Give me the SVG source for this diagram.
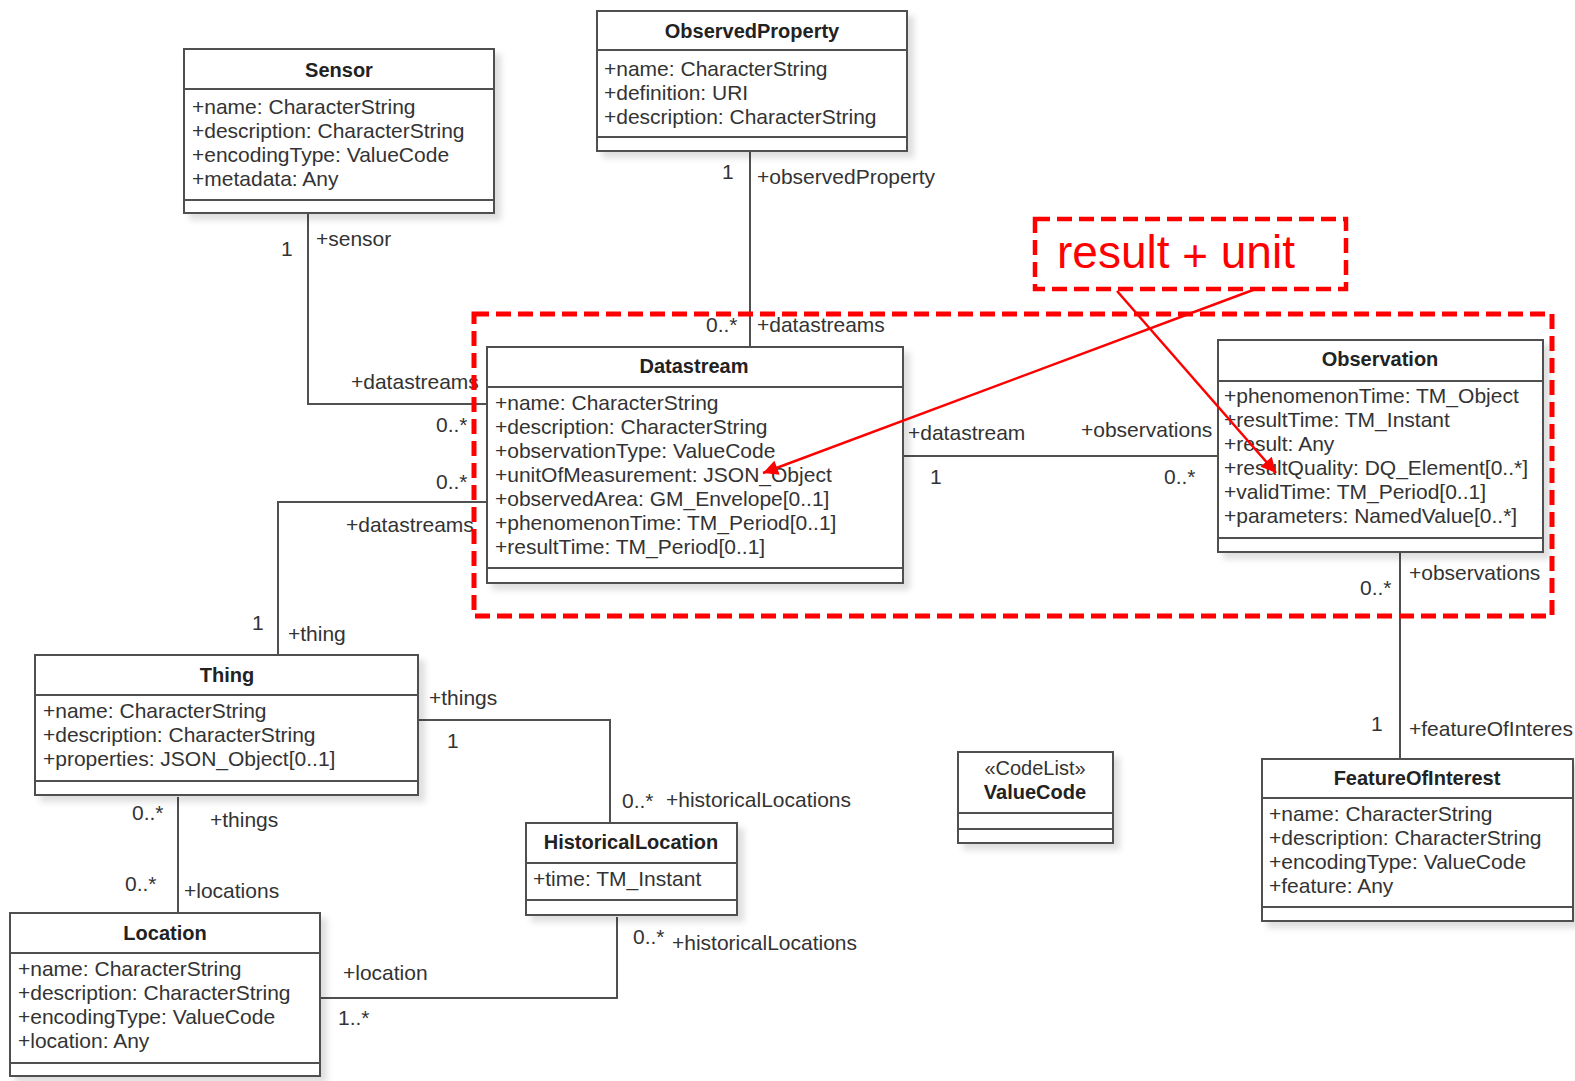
<svg xmlns="http://www.w3.org/2000/svg" width="1575" height="1081" viewBox="0 0 1575 1081">
<defs>
<style>
.box{fill:#fff;stroke:#505050;stroke-width:2;filter:url(#shadow)}
.sep{stroke:#505050;stroke-width:2}
.t{font-family:"Liberation Sans",Arial,sans-serif;font-size:21px;fill:#333}
.ti{font-family:"Liberation Sans",Arial,sans-serif;font-size:20px;font-weight:bold;fill:#222;text-anchor:middle}
.st{font-family:"Liberation Sans",Arial,sans-serif;font-size:20px;fill:#333;text-anchor:middle}
.c{fill:none;stroke:#505050;stroke-width:2}
.red{fill:none;stroke:#f00;stroke-width:5;stroke-dasharray:15 7}
.ra{fill:none;stroke:#f00;stroke-width:2.5}
.big{font-family:"Liberation Sans",Arial,sans-serif;font-size:46px;fill:#f00}
</style>
<filter id="shadow" x="-10%" y="-10%" width="130%" height="130%">
<feDropShadow dx="6" dy="6" stdDeviation="3" flood-color="#000" flood-opacity="0.13"/>
</filter>
<marker id="arr" viewBox="0 0 10 10" refX="10" refY="5" markerWidth="7" markerHeight="6" markerUnits="strokeWidth" orient="auto">
<path d="M0,0 L10,5 L0,10 z" fill="#f00"/>
</marker>
</defs>
<rect width="1575" height="1081" fill="#fff"/>

<g id="connectors">
<path class="c" d="M308 213 V404 H487"/>
<path class="c" d="M750 151 V347"/>
<path class="c" d="M487 502 H278 V655"/>
<path class="c" d="M903 456 H1218"/>
<path class="c" d="M1400 552 V759"/>
<path class="c" d="M418 720 H610 V824"/>
<path class="c" d="M178 797 V915"/>
<path class="c" d="M320 998 H617 V917"/>
<text class="t" x="281" y="256">1</text>
<text class="t" x="316" y="246">+sensor</text>
<text class="t" x="351" y="389">+datastreams</text>
<text class="t" x="436" y="432">0..*</text>
<text class="t" x="722" y="179">1</text>
<text class="t" x="757" y="184">+observedProperty</text>
<text class="t" x="706" y="332">0..*</text>
<text class="t" x="757" y="332">+datastreams</text>
<text class="t" x="436" y="489">0..*</text>
<text class="t" x="346" y="532">+datastreams</text>
<text class="t" x="252" y="630">1</text>
<text class="t" x="288" y="641">+thing</text>
<text class="t" x="908" y="440">+datastream</text>
<text class="t" x="930" y="484">1</text>
<text class="t" x="1081" y="437">+observations</text>
<text class="t" x="1164" y="484">0..*</text>
<text class="t" x="1360" y="595">0..*</text>
<text class="t" x="1409" y="580">+observations</text>
<text class="t" x="1371" y="731">1</text>
<text class="t" x="1409" y="736">+featureOfInteres</text>
<text class="t" x="429" y="705">+things</text>
<text class="t" x="447" y="748">1</text>
<text class="t" x="622" y="808">0..*</text>
<text class="t" x="666" y="807">+historicalLocations</text>
<text class="t" x="132" y="820">0..*</text>
<text class="t" x="210" y="827">+things</text>
<text class="t" x="125" y="891">0..*</text>
<text class="t" x="184" y="898">+locations</text>
<text class="t" x="343" y="980">+location</text>
<text class="t" x="338" y="1025">1..*</text>
<text class="t" x="633" y="944">0..*</text>
<text class="t" x="672" y="950">+historicalLocations</text>
</g>

<g id="Sensor">
<rect class="box" x="184" y="49" width="310" height="164"/>
<line class="sep" x1="184" y1="89" x2="494" y2="89"/>
<line class="sep" x1="184" y1="200" x2="494" y2="200"/>
<text class="ti" x="339" y="77">Sensor</text>
<text class="t" x="192" y="114">+name: CharacterString</text>
<text class="t" x="192" y="138">+description: CharacterString</text>
<text class="t" x="192" y="162">+encodingType: ValueCode</text>
<text class="t" x="192" y="186">+metadata: Any</text>
</g>

<g id="ObservedProperty">
<rect class="box" x="597" y="11" width="310" height="140"/>
<line class="sep" x1="597" y1="50" x2="907" y2="50"/>
<line class="sep" x1="597" y1="137" x2="907" y2="137"/>
<text class="ti" x="752" y="38">ObservedProperty</text>
<text class="t" x="604" y="76">+name: CharacterString</text>
<text class="t" x="604" y="100">+definition: URI</text>
<text class="t" x="604" y="124">+description: CharacterString</text>
</g>

<g id="Datastream">
<rect class="box" x="487" y="347" width="416" height="236"/>
<line class="sep" x1="487" y1="387" x2="903" y2="387"/>
<line class="sep" x1="487" y1="568" x2="903" y2="568"/>
<text class="ti" x="694" y="373">Datastream</text>
<text class="t" x="495" y="410">+name: CharacterString</text>
<text class="t" x="495" y="434">+description: CharacterString</text>
<text class="t" x="495" y="458">+observationType: ValueCode</text>
<text class="t" x="495" y="482">+unitOfMeasurement: JSON_Object</text>
<text class="t" x="495" y="506">+observedArea: GM_Envelope[0..1]</text>
<text class="t" x="495" y="530">+phenomenonTime: TM_Period[0..1]</text>
<text class="t" x="495" y="554">+resultTime: TM_Period[0..1]</text>
</g>

<g id="Observation">
<rect class="box" x="1218" y="340" width="325" height="212"/>
<line class="sep" x1="1218" y1="381" x2="1543" y2="381"/>
<line class="sep" x1="1218" y1="538" x2="1543" y2="538"/>
<text class="ti" x="1380" y="366">Observation</text>
<text class="t" x="1224" y="403">+phenomenonTime: TM_Object</text>
<text class="t" x="1224" y="427">+resultTime: TM_Instant</text>
<text class="t" x="1224" y="451">+result: Any</text>
<text class="t" x="1224" y="475">+resultQuality: DQ_Element[0..*]</text>
<text class="t" x="1224" y="499">+validTime: TM_Period[0..1]</text>
<text class="t" x="1224" y="523">+parameters: NamedValue[0..*]</text>
</g>

<g id="Thing">
<rect class="box" x="35" y="655" width="383" height="140"/>
<line class="sep" x1="35" y1="695" x2="418" y2="695"/>
<line class="sep" x1="35" y1="781" x2="418" y2="781"/>
<text class="ti" x="227" y="682">Thing</text>
<text class="t" x="43" y="718">+name: CharacterString</text>
<text class="t" x="43" y="742">+description: CharacterString</text>
<text class="t" x="43" y="766">+properties: JSON_Object[0..1]</text>
</g>

<g id="HistoricalLocation">
<rect class="box" x="526" y="823" width="211" height="92"/>
<line class="sep" x1="526" y1="863" x2="737" y2="863"/>
<line class="sep" x1="526" y1="900" x2="737" y2="900"/>
<text class="ti" x="631" y="849">HistoricalLocation</text>
<text class="t" x="533" y="886">+time: TM_Instant</text>
</g>

<g id="Location">
<rect class="box" x="10" y="913" width="310" height="163"/>
<line class="sep" x1="10" y1="953" x2="320" y2="953"/>
<line class="sep" x1="10" y1="1063" x2="320" y2="1063"/>
<text class="ti" x="165" y="940">Location</text>
<text class="t" x="18" y="976">+name: CharacterString</text>
<text class="t" x="18" y="1000">+description: CharacterString</text>
<text class="t" x="18" y="1024">+encodingType: ValueCode</text>
<text class="t" x="18" y="1048">+location: Any</text>
</g>

<g id="FeatureOfInterest">
<rect class="box" x="1262" y="759" width="311" height="162"/>
<line class="sep" x1="1262" y1="798" x2="1573" y2="798"/>
<line class="sep" x1="1262" y1="907" x2="1573" y2="907"/>
<text class="ti" x="1417" y="785">FeatureOfInterest</text>
<text class="t" x="1269" y="821">+name: CharacterString</text>
<text class="t" x="1269" y="845">+description: CharacterString</text>
<text class="t" x="1269" y="869">+encodingType: ValueCode</text>
<text class="t" x="1269" y="893">+feature: Any</text>
</g>

<g id="ValueCode">
<rect class="box" x="958" y="752" width="155" height="91"/>
<line class="sep" x1="958" y1="813" x2="1113" y2="813"/>
<line class="sep" x1="958" y1="829" x2="1113" y2="829"/>
<text class="st" x="1035" y="775">«CodeList»</text>
<text class="ti" x="1035" y="799">ValueCode</text>
</g>

<g id="highlight">
<rect class="red" x="474" y="314" width="1078" height="302"/>
</g>

<g id="annotation">
<rect class="red" x="1035" y="219" width="311" height="70" style="stroke-width:4.5"/>
<text class="big" x="1057" y="268">result <tspan font-size="44" dy="3">+</tspan><tspan dy="-3"> unit</tspan></text>
<line class="ra" x1="1253" y1="290" x2="763" y2="473" marker-end="url(#arr)"/>
<line class="ra" x1="1117" y1="291" x2="1276" y2="473" marker-end="url(#arr)"/>
</g>
</svg>
